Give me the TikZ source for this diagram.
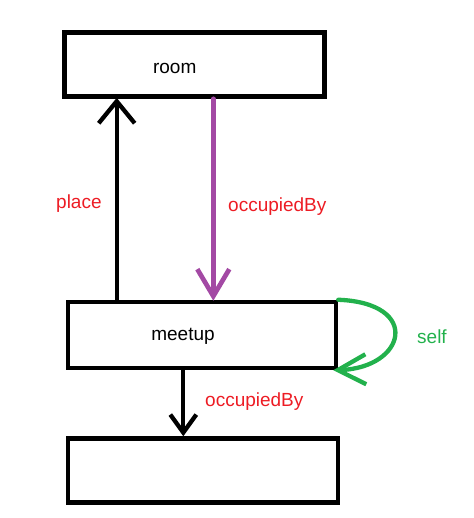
\documentclass[tikz,border=0pt]{standalone}
\usepackage{fontspec}
\setmainfont{Liberation Sans}
\usetikzlibrary{arrows.meta}
\definecolor{pred}{HTML}{ED1C24}
\definecolor{ppurple}{HTML}{A349A4}
\definecolor{pgreen}{HTML}{22B14C}
\tikzset{
  every picture/.style={x=1pt, y=-1pt, font=\fontsize{19}{22}\selectfont},
  box/.style={draw, line width=4.5pt, minimum width=#1, minimum height=64pt, inner sep=0pt},
  arrow/.style={draw=#1, line width=4.3pt, line cap=round},
  arrow/.default=black,
  tag/.style={text=#1, inner sep=0pt, anchor=base west},
  tag/.default=pred,
}

\begin{document}
\begin{tikzpicture}
  \useasboundingbox (0,0) rectangle (473,518);
  % boxes
  \node[box=260pt] (room) at (194.3,64.6) {};
  \node[box=268pt, minimum height=66pt] (meetup) at (202,335) {};
  \node[box=270pt] (other) at (203,470.5) {};
  \node[anchor=base] (roomtext) at (174.7,73.3) {room};
  \node[anchor=base] (meetuptext) at (183,340) {meetup};
  % arrows
  \coordinate (placex) at (116.7,0);
  \coordinate (occx) at (213.3,0);
  \coordinate (downx) at (183.3,0);
  \draw[arrow, -{Straight Barb[length=22pt, width=36pt]}] (placex |- meetup.north) -- ([yshift=1pt]placex |- room.south);
  \draw[arrow=ppurple, line width=4.7pt, -{Straight Barb[length=27pt, width=32pt]}] (occx |- room.south) -- ([yshift=-1pt]occx |- meetup.north);
  \draw[arrow, -{Straight Barb[length=18pt, width=26pt]}] (downx |- meetup.south) -- (downx |- other.north);
  \draw[arrow=pgreen, -{Straight Barb[length=28pt, width=30pt]}] (meetup.north east) .. controls (422,303) and (406,368) .. ([xshift=-5pt]meetup.south east);
  % labels
  \node[tag] (placelbl) at (56,208.3) {place};
  \node[tag] (occlbl) at (228,211.7) {occupiedBy};
  \node[tag=pgreen] (selflbl) at (417,343.3) {self};
  \node[tag] (downlbl) at (205,406.7) {occupiedBy};
\end{tikzpicture}
\end{document}
